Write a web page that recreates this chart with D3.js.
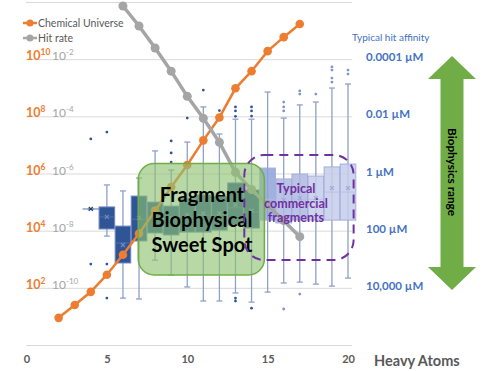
<!DOCTYPE html>
<html><head><meta charset="utf-8">
<script src="https://cdn.jsdelivr.net/npm/d3@7"></script>
<style>body{margin:0;background:#fff}svg{display:block;font-family:Lato,"Open Sans",sans-serif}</style>
</head><body><svg id="c" width="500" height="371"></svg>
<script>
// ---- data ----
const chemX = [2,3,4,5,6,7,8,9,10,11,12,13,14,15,16,17];
const chemLog10 = [0.95,1.4,1.86,2.46,3.16,3.9,4.7,5.53,6.3,7.16,7.96,8.98,9.58,10.28,10.77,11.23];
const hitX = [6,7,8,9,10,11,12,13,14,15,16,17];
const hitLog10 = [-0.14,-0.84,-1.61,-2.42,-3.3,-4.07,-4.91,-5.96,-6.56,-7.1,-7.65,-8.21];
// affinity box plots, values = log10(µM)
const boxX      = [4,5,6,7,8,9,10,11,12,13,14,15,16,17,18,19,20];
const boxMin    = [1.24,0.4,0.61,0.16,-0.79,-0.12,-1.1,-2.33,-1.38,-1.9,-1.9,-2.85,-1.94,-2.4,-2.5,-2.99,-3.13];
const boxQ1     = [1.24,1.17,1.84,0.79,1.0,1.14,0.86,0.75,0.8,0.33,0.58,-0.19,0.19,0.02,0.09,-0.23,-0.33];
const boxMedian = [1.24,1.52,2.43,1.6,1.5,1.6,1.5,1.45,1.45,1.2,1.35,0.9,1.0,0.9,0.9,0.65,0.65];
const boxQ3     = [1.24,1.94,3.13,2.36,2.08,2.15,2.05,2.05,1.98,1.8,1.91,1.63,1.73,1.63,1.63,1.63,1.63];
const boxMax    = [1.24,2.19,4.36,4.39,3.03,3.55,3.97,4.46,4.46,4.18,4.5,4.15,3.83,3.8,3.87,3.94,3.66];
const boxMean   = [1.24,1.52,2.5,1.55,1.5,1.55,1.45,1.4,1.4,1.1,1.3,1.0,0.93,0.86,0.86,0.51,0.51];
const boxOutliers = [[-1.21,3.17],[-1.45,3.17,4.36],[],[],[],[-1.14,-0.72,-0.4],[-1.94],[-2.92],[-2.2],
  [-2.33,-2.19,-2.0,4.36,4.46],[-2.33,-2.19,-2.01,4.71],[],[-2.5,-2.33,-2.19,4.74],[-2.89,-2.78,4.22],[-2.78],
  [-3.73,-3.62,-3.34,-3.2],[-3.62,-3.48]];
const xTicks = [0,5,10,15,20];
const chemTicks = [2,4,6,8,10];
const hitTicks = [-10,-8,-6,-4,-2];
const affTicks = [-4,-2,0,2,4];
const affLabels = ["0.0001 µM","0.01 µM","1 µM","100 µM","10,000 µM"];

// ---- scales ----
const svg = d3.select("#c");
const x = d3.scaleLinear().domain([0,20]).range([26.5,348]);
const yChem = d3.scaleLinear().domain([0,12]).range([345,2]);
const yHit = d3.scaleLinear().domain([-12,0]).range([345,2]);
const yAff = d3.scaleLinear().domain([6,-6]).range([345,2]);

// gridlines
svg.append("g").attr("transform","translate(26,0)")
  .call(d3.axisRight(yChem).tickValues([0,2,4,6,8,10,12]).tickSize(326).tickFormat(""))
  .call(g=>g.select(".domain").remove())
  .call(g=>g.selectAll("line").attr("stroke","#d9d9d9").attr("stroke-width",1));

// x axis
svg.append("g").attr("transform","translate(0,352)")
  .call(d3.axisBottom(x).tickValues(xTicks).tickSize(0).tickPadding(3))
  .call(g=>g.select(".domain").remove())
  .call(g=>g.selectAll("text").attr("fill","#595959").attr("font-size",11).attr("font-weight","bold").attr("font-family","Lato"));
svg.append("text").attr("x",374).attr("y",366).attr("fill","#595959").attr("font-size",14.5).attr("font-weight","bold").text("Heavy Atoms");

// left axis labels (chemical universe, orange)
const lc = svg.append("g").selectAll("text").data(chemTicks).join("text")
  .attr("x",26).attr("y",d=>yChem(d)+1).attr("fill","#ED7D31").attr("font-weight","bold").attr("font-size",12.5);
lc.append("tspan").text("10");
lc.append("tspan").attr("dy",-5).attr("font-size",8.5).text(d=>d);
const lh = svg.append("g").selectAll("text").data(hitTicks).join("text")
  .attr("x",52).attr("y",d=>yHit(d)+1).attr("fill","#A5A5A5").attr("font-size",12);
lh.append("tspan").text("10");
lh.append("tspan").attr("dy",-5).attr("font-size",8).text(d=>d);

// right axis labels (affinity)
svg.append("g").selectAll("text").data(affTicks).join("text")
  .attr("x",366).attr("y",(d,i)=>yAff(d)+2).attr("fill","#4472C4").attr("font-weight","bold").attr("font-size",11.5)
  .text((d,i)=>affLabels[i]);
svg.append("text").attr("x",352).attr("y",41).attr("fill","#4472C4").attr("font-size",10).text("Typical hit affinity");

// box plots
const boxes = boxX.map((v,i)=>({x:v,min:boxMin[i],q1:boxQ1[i],med:boxMedian[i],q3:boxQ3[i],max:boxMax[i],mean:boxMean[i],out:boxOutliers[i]}));
function fillFor(v){ if(v<=14) return "#2F5597"; if(v===15) return "#8FA2D9"; if(v<=17) return "#AEB9E2"; return "#C6CDEA"; }
function strokeFor(v){ return v<=14 ? "#6F86BE" : "#A3AFDC"; }
const hw = 7.8;
const bg = svg.append("g");
boxes.forEach(b=>{
  const cx = x(b.x);
  const g = bg.append("g");
  const wc = "#8FA1C7";
  g.append("line").attr("x1",cx).attr("x2",cx).attr("y1",yAff(b.min)).attr("y2",yAff(b.max)).attr("stroke",wc).attr("stroke-width",1.3);
  [b.min,b.max].forEach(v=>g.append("line").attr("x1",cx-3).attr("x2",cx+3).attr("y1",yAff(v)).attr("y2",yAff(v)).attr("stroke",wc).attr("stroke-width",1.3));
  g.append("rect").attr("x",cx-hw).attr("width",hw*2).attr("y",yAff(b.q1)).attr("height",Math.max(0.1,yAff(b.q3)-yAff(b.q1)))
    .attr("fill",fillFor(b.x)).attr("fill-opacity",b.x>=15?0.85:1).attr("stroke",b.x===4?"#6F86BE":strokeFor(b.x)).attr("stroke-width",1);
  if(b.q3>b.q1) g.append("line").attr("x1",cx-hw).attr("x2",cx+hw).attr("y1",yAff(b.med)).attr("y2",yAff(b.med)).attr("stroke",b.x<=14?"#5a74b0":"#b3bde0").attr("stroke-width",0.8);
  const my = yAff(b.mean), mc = b.x===4?"#1F3864":(b.x<=14?"#7488c0":"#9ea9d4");
  g.append("path").attr("d",`M${cx-2},${my-2}L${cx+2},${my+2}M${cx-2},${my+2}L${cx+2},${my-2}`).attr("stroke",mc).attr("stroke-width",1.2);
  g.selectAll("circle").data(b.out).join("circle").attr("cx",cx).attr("cy",d=>yAff(d)).attr("r",1.4)
    .attr("fill",b.x<=14?"#2F5597":"#7F94CC");
});

// lines
const lineChem = d3.line().x((d,i)=>x(chemX[i])).y(d=>yChem(d));
svg.append("path").attr("d",lineChem(chemLog10)).attr("fill","none").attr("stroke","#ED7D31").attr("stroke-width",2.5);
svg.append("g").selectAll("circle").data(chemLog10).join("circle").attr("cx",(d,i)=>x(chemX[i])).attr("cy",d=>yChem(d)).attr("r",4.3).attr("fill","#ED7D31");
const lineHit = d3.line().x((d,i)=>x(hitX[i])).y(d=>yHit(d));
svg.append("path").attr("d",lineHit(hitLog10)).attr("fill","none").attr("stroke","#A5A5A5").attr("stroke-width",3.5);
svg.append("g").selectAll("circle").data(hitLog10).join("circle").attr("cx",(d,i)=>x(hitX[i])).attr("cy",d=>yHit(d)).attr("r",4.5).attr("fill","#A5A5A5");

// green sweet spot box
svg.append("rect").attr("x",x(6.95)).attr("y",yAff(-0.35)).attr("width",x(14.8)-x(6.95)).attr("height",yAff(3.55)-yAff(-0.35))
  .attr("rx",16).attr("fill","#8DC26F").attr("fill-opacity",0.62).attr("stroke","#70AD47").attr("stroke-width",1.5);
const st = svg.append("text").attr("text-anchor","middle").attr("font-weight","bold").attr("font-size",20).attr("fill","#000");
["Fragment","Biophysical","Sweet Spot"].forEach((t,i)=>st.append("tspan").attr("x",202).attr("y",202+i*25).text(t));

// purple dashed commercial box
svg.append("rect").attr("x",x(13.55)).attr("y",yAff(-0.65)).attr("width",x(20.35)-x(13.55)).attr("height",yAff(3.03)-yAff(-0.65))
  .attr("rx",20).attr("fill","none").attr("stroke","#7030A0").attr("stroke-width",2).attr("stroke-dasharray","9,6");
const pt = svg.append("text").attr("text-anchor","middle").attr("font-weight","bold").attr("font-size",12.5).attr("fill","#7030A0");
["Typical","commercial","fragments"].forEach((t,i)=>pt.append("tspan").attr("x",296).attr("y",193+i*14.5).text(t));

// green double arrow
svg.append("path").attr("d","M452,56L476,79L463.5,79L463.5,267L476,267L452,290L428,267L440.5,267L440.5,79L428,79Z").attr("fill","#70AD47");
svg.append("text").attr("transform","translate(448,172) rotate(90)").attr("text-anchor","middle").attr("font-weight","bold").attr("font-size",11.8).attr("fill","#000").text("Biophysics range");

// legend
const leg = [{c:"#ED7D31",t:"Chemical Universe",y:23},{c:"#A5A5A5",t:"Hit rate",y:38}];
leg.forEach(l=>{
  svg.append("line").attr("x1",23).attr("x2",37).attr("y1",l.y).attr("y2",l.y).attr("stroke",l.c).attr("stroke-width",2.5);
  svg.append("circle").attr("cx",30).attr("cy",l.y).attr("r",3.5).attr("fill",l.c);
  svg.append("text").attr("x",38).attr("y",l.y+4).attr("fill","#595959").attr("font-size",10.5).text(l.t);
});
</script></body></html>
